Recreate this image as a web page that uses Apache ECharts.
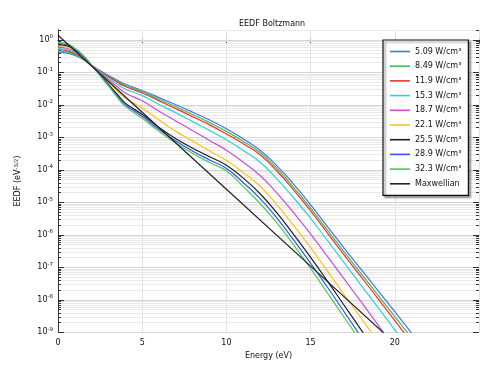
<!DOCTYPE html>
<html>
<head>
<meta charset="utf-8">
<script src="https://cdn.jsdelivr.net/npm/echarts@6/dist/echarts.min.js"></script>
<style>html,body{margin:0;padding:0;background:#fff;}#c{width:487px;height:365px;}</style>
</head>
<body>
<div id="c"></div>
<script>
// Energy grid (eV)
const energy = [0,0.5,1,1.5,2,2.5,3,3.5,4,5,6,7,8,9,10,11,12,13,14,15,16,17,18,19,20,21,22];
// EEDF values, stored as log10(EEDF / eV^-3/2)
const log10_p509 = [-0.38,-0.41,-0.48,-0.61,-0.79,-0.95,-1.10,-1.24,-1.37,-1.56,-1.78,-2.00,-2.23,-2.47,-2.74,-3.05,-3.40,-3.88,-4.45,-5.08,-5.75,-6.42,-7.07,-7.72,-8.37,-9.03];
const log10_p849 = [-0.34,-0.37,-0.45,-0.59,-0.79,-0.96,-1.12,-1.27,-1.40,-1.60,-1.83,-2.06,-2.30,-2.55,-2.82,-3.13,-3.47,-3.96,-4.55,-5.18,-5.86,-6.54,-7.20,-7.86,-8.52,-9.18];
const log10_p119 = [-0.30,-0.33,-0.42,-0.58,-0.79,-0.97,-1.14,-1.30,-1.44,-1.64,-1.88,-2.12,-2.37,-2.62,-2.90,-3.20,-3.54,-4.04,-4.63,-5.27,-5.95,-6.63,-7.30,-7.97,-8.65,-9.32];
const log10_p153 = [-0.27,-0.30,-0.39,-0.56,-0.79,-0.99,-1.18,-1.36,-1.52,-1.72,-1.99,-2.25,-2.52,-2.79,-3.08,-3.41,-3.77,-4.28,-4.87,-5.50,-6.18,-6.87,-7.56,-8.24,-8.93,-9.60];
const log10_p187 = [-0.23,-0.26,-0.36,-0.54,-0.79,-1.01,-1.23,-1.44,-1.64,-1.88,-2.20,-2.50,-2.80,-3.10,-3.40,-3.77,-4.18,-4.72,-5.33,-5.98,-6.67,-7.37,-8.07,-8.78,-9.50];
const log10_p221 = [-0.19,-0.22,-0.33,-0.52,-0.79,-1.04,-1.30,-1.56,-1.80,-2.10,-2.47,-2.82,-3.12,-3.42,-3.72,-4.09,-4.51,-5.08,-5.72,-6.40,-7.12,-7.85,-8.57,-9.30];
const log10_p255 = [-0.15,-0.18,-0.30,-0.50,-0.79,-1.07,-1.37,-1.67,-1.95,-2.30,-2.70,-3.05,-3.34,-3.60,-3.86,-4.26,-4.74,-5.33,-6.00,-6.70,-7.43,-8.18,-8.93,-9.68];
const log10_p289 = [-0.12,-0.15,-0.28,-0.49,-0.79,-1.09,-1.40,-1.72,-2.00,-2.36,-2.76,-3.12,-3.43,-3.70,-3.96,-4.40,-4.89,-5.49,-6.17,-6.88,-7.62,-8.38,-9.15];
const log10_p323 = [-0.09,-0.12,-0.26,-0.48,-0.79,-1.11,-1.43,-1.76,-2.05,-2.42,-2.82,-3.18,-3.50,-3.78,-4.04,-4.52,-5.04,-5.64,-6.32,-7.04,-7.79,-8.55,-9.30];
const maxwEnergy = [0,5,10,15,20];
const log10_maxw = [0.14,-2.23,-4.60,-6.97,-9.34];

const seriesNames = ['5.09 W/cm³','8.49 W/cm³','11.9 W/cm³','15.3 W/cm³','18.7 W/cm³','22.1 W/cm³','25.5 W/cm³','28.9 W/cm³','32.3 W/cm³','Maxwellian'];
const seriesColors = ['#4d6cf5','#3dbf4c','#e8352e','#2fd2d6','#d04ad6','#ffc21a','#1e1e1e','#3355f5','#4ccb5c','#222222'];
const yDecades = [-9,-8,-7,-6,-5,-4,-3,-2,-1,0];
const xTicks = [0,5,10,15,20];
const yMax = Math.log10(2);

const curves = [log10_p509,log10_p849,log10_p119,log10_p153,log10_p187,log10_p221,log10_p255,log10_p289,log10_p323];

function zip(xs, ys){ return ys.map((v,i)=>[xs[i], v]); }

// minor/major log grid positions
const gridData = [];
yDecades.forEach(n => {
  for (let k = 1; k <= 9; k++) {
    const v = n + Math.log10(k);
    if (v <= yMax + 1e-9) gridData.push([0, v, k === 1 ? 1 : 0]);
  }
});

const series = [];
series.push({
  type: 'custom', name: '_grid', silent: true, z: 1, clip: false,
  data: gridData,
  renderItem: function(params, api){
    const y = api.value(1);
    const major = api.value(2) === 1;
    const pt = api.coord([0, y]);
    const cs = params.coordSys;
    const yy = Math.round(pt[1]) + 0.5;
    const x0 = cs.x, x1 = cs.x + cs.width;
    const tl = major ? 6 : 3;
    return { type: 'group', children: [
      { type: 'line', shape: {x1: x0, y1: yy, x2: x1, y2: yy}, style: {stroke: major ? '#d6d6d6' : '#e9e9e9', lineWidth: 1} },
      { type: 'line', shape: {x1: x0, y1: yy, x2: x0 + tl, y2: yy}, style: {stroke: '#333', lineWidth: 1} },
      { type: 'line', shape: {x1: x1 - tl, y1: yy, x2: x1, y2: yy}, style: {stroke: '#333', lineWidth: 1} }
    ]};
  }
});
curves.forEach((c, i) => {
  series.push({
    type: 'line', name: seriesNames[i], data: zip(energy, c),
    showSymbol: false, symbol: 'none', smooth: 0.5,
    lineStyle: {width: 1.2, color: seriesColors[i]}, itemStyle: {color: seriesColors[i]},
    z: 3, clip: true
  });
});
series.push({
  type: 'line', name: seriesNames[9], data: zip(maxwEnergy, log10_maxw),
  showSymbol: false, symbol: 'none',
  lineStyle: {width: 1.2, color: seriesColors[9]}, itemStyle: {color: seriesColors[9]},
  z: 3, clip: true
});

const chart = echarts.init(document.getElementById('c'));
const font = 'DejaVu Sans';
chart.setOption({
  animation: false,
  backgroundColor: '#fff',
  textStyle: {fontFamily: font},
  title: {text: 'EEDF Boltzmann', left: 234, top: 15, textStyle: {fontSize: 8, fontWeight: 'normal', color: '#111', fontFamily: font}},
  grid: {left: 58, right: 8, top: 30, bottom: 28},
  legend: {
    data: seriesNames, orient: 'vertical', left: 383, top: 40,
    icon: 'rect', itemWidth: 20, itemHeight: 1.6, itemGap: 3.7,
    padding: [6, 7, 6, 7],
    backgroundColor: '#fff', borderColor: '#111', borderWidth: 1.2,
    shadowColor: 'rgba(0,0,0,0.45)', shadowOffsetX: 2, shadowOffsetY: 2, shadowBlur: 2,
    textStyle: {fontSize: 8, color: '#111', lineHeight: 11, fontFamily: font},
    selectedMode: false
  },
  xAxis: [{
    type: 'value', min: 0, max: 25, interval: 5, position: 'bottom',
    name: 'Energy (eV)', nameLocation: 'middle', nameGap: 14,
    nameTextStyle: {fontSize: 8, color: '#111'},
    axisLine: {show: true, lineStyle: {color: '#333', width: 1}},
    axisTick: {show: false},
    axisLabel: {fontSize: 8, color: '#111', margin: 7, formatter: v => (xTicks.indexOf(v) >= 0 ? String(v) : '')},
    splitLine: {show: true, lineStyle: {color: '#e2e2e2', width: 1}}
  }, {
    type: 'value', min: 0, max: 25, interval: 5, position: 'top',
    axisLine: {show: true, lineStyle: {color: '#333', width: 1}},
    axisTick: {show: true, inside: true, length: 4, lineStyle: {color: '#333'}},
    axisLabel: {show: false}, splitLine: {show: false}
  }],
  yAxis: [{
    type: 'value', min: -9, max: yMax, interval: 1, position: 'left',
    name: 'EEDF (eV{s|-3/2})', nameLocation: 'middle', nameGap: 36, nameRotate: 90,
    nameTextStyle: {fontSize: 8, color: '#111', rich: {s: {fontSize: 5.5, verticalAlign: 'top', lineHeight: 8, color: '#111'}}},
    axisLine: {show: true, lineStyle: {color: '#333', width: 1}},
    axisTick: {show: false},
    axisLabel: {
      color: '#111', margin: 5, showMaxLabel: false,
      formatter: v => (Math.abs(v - Math.round(v)) < 1e-6 && yDecades.indexOf(Math.round(v)) >= 0) ? '{b|10}{s|' + Math.round(v) + '}' : '',
      rich: {b: {fontSize: 8, color: '#111', lineHeight: 12}, s: {fontSize: 5.5, color: '#111', verticalAlign: 'top', lineHeight: 8}}
    },
    splitLine: {show: false}
  }, {
    type: 'value', min: -9, max: yMax, interval: 1, position: 'right',
    axisLine: {show: true, lineStyle: {color: '#333', width: 1}},
    axisTick: {show: false}, axisLabel: {show: false}, splitLine: {show: false}
  }],
  series: series
});
</script>
</body>
</html>
